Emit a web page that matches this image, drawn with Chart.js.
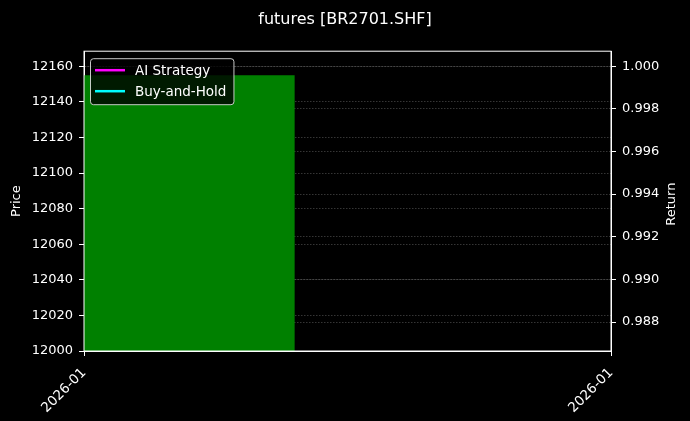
<!DOCTYPE html>
<html>
<head>
<meta charset="utf-8">
<script src="https://cdn.jsdelivr.net/npm/chart.js@4/dist/chart.umd.min.js"></script>
<style>
    html, body { margin: 0; background: #000; }
    #wrap { width: 690px; height: 421px; }
</style>
</head>
<body>
<div id="wrap"><canvas data-js="grafico"></canvas></div>
<script>
const titulo = 'futures [BR2701.SHF]';

// dias (offset em dias a partir do inicio do eixo)
const diasPreco = [0.4];
const precos = [12155];
const larguraBarra = 0.8;

const diasRetorno = [0.4];
const retornoIA = [1.0];
const retornoBH = [1.0];

const ticksX = [0, 2];
const rotulosX = ['2026-01', '2026-01'];
const ticksPreco = [12000, 12020, 12040, 12060, 12080, 12100, 12120, 12140, 12160];
const ticksRetorno = [0.988, 0.990, 0.992, 0.994, 0.996, 0.998, 1.000];
const limitesPreco = [12000, 12168.5];
const limitesRetorno = [0.98664, 1.0007];

const fonte = 'DejaVu Sans';
Chart.defaults.font.family = fonte;
Chart.defaults.color = '#fff';

const corGrade = 'rgba(140,140,140,0.55)';

// barra de preco desenhada como area preenchida ate o fundo da escala
const dadosBarra = diasPreco.flatMap((d, i) => [
    { x: d - larguraBarra / 2, y: precos[i] },
    { x: d + larguraBarra / 2, y: precos[i] },
]);

// legenda dentro do grafico, por cima da barra, e titulo "Return" girado
const extras = {
    id: 'extras',
    afterDatasetsDraw(chart) {
        const { ctx, chartArea } = chart;
        const itens = chart.data.datasets.filter(ds => ds.naLegenda);
        ctx.save();
        ctx.font = `13.5px "${fonte}"`;
        const larguraTexto = Math.max(...itens.map(ds => ctx.measureText(ds.label).width));
        const x0 = chartArea.left + 6;
        const y0 = chartArea.top + 7;
        const largura = 5 + 30 + 10 + larguraTexto + 7;
        const altura = 46;
        ctx.beginPath();
        ctx.roundRect(x0 + 0.5, y0 + 0.5, largura, altura, 3);
        ctx.fillStyle = 'rgba(0,0,0,0.8)';
        ctx.fill();
        ctx.strokeStyle = 'rgba(220,220,220,0.9)';
        ctx.lineWidth = 1;
        ctx.stroke();
        itens.forEach((ds, i) => {
            const y = y0 + 12 + i * 21;
            ctx.beginPath();
            ctx.moveTo(x0 + 5, y);
            ctx.lineTo(x0 + 35, y);
            ctx.strokeStyle = ds.borderColor;
            ctx.lineWidth = 2.5;
            ctx.stroke();
            ctx.fillStyle = '#fff';
            ctx.textBaseline = 'middle';
            ctx.fillText(ds.label, x0 + 45, y + 1);
        });
        ctx.restore();
    },
    afterDraw(chart) {
        const { ctx, chartArea } = chart;
        ctx.save();
        ctx.strokeStyle = '#fff';
        ctx.lineWidth = 1;
        ctx.strokeRect(chartArea.left, chartArea.top, chartArea.right - chartArea.left, chartArea.bottom - chartArea.top);
        ctx.translate(chart.width - 18, (chartArea.top + chartArea.bottom) / 2 + 3);
        ctx.rotate(-Math.PI / 2);
        ctx.font = `13px "${fonte}"`;
        ctx.fillStyle = '#fff';
        ctx.textAlign = 'center';
        ctx.textBaseline = 'middle';
        ctx.fillText('Return', 0, 0);
        ctx.restore();
    }
};

const grafico = new Chart(document.querySelector('[data-js="grafico"]'), {
    type: 'line',
    data: {
        datasets: [
            {
                label: 'AI Strategy',
                naLegenda: true,
                data: diasRetorno.map((d, i) => ({ x: d, y: retornoIA[i] })),
                borderColor: '#ff00ff',
                borderWidth: 2,
                pointRadius: 0,
                yAxisID: 'y1',
            },
            {
                label: 'Buy-and-Hold',
                naLegenda: true,
                data: diasRetorno.map((d, i) => ({ x: d, y: retornoBH[i] })),
                borderColor: '#00ffff',
                borderWidth: 2,
                pointRadius: 0,
                yAxisID: 'y1',
            },
            {
                label: 'Price',
                data: dadosBarra,
                borderWidth: 0,
                borderColor: 'rgba(0,0,0,0)',
                backgroundColor: '#008000',
                fill: 'start',
                pointRadius: 0,
                tension: 0,
                yAxisID: 'y',
            },
        ]
    },
    options: {
        responsive: true,
        maintainAspectRatio: false,
        animation: false,
        layout: { padding: 0 },
        plugins: {
            title: {
                display: true,
                text: titulo,
                color: '#fff',
                font: { size: 16, weight: 'normal' },
                padding: { top: 10, bottom: 22 },
            },
            legend: { display: false },
            tooltip: { enabled: false },
        },
        scales: {
            x: {
                type: 'linear',
                min: ticksX[0],
                max: ticksX[ticksX.length - 1],
                afterBuildTicks: (escala) => { escala.ticks = ticksX.map(v => ({ value: v })); },
                afterFit: (escala) => { escala.height = 70; },
                ticks: {
                    autoSkip: false,
                    maxRotation: 45,
                    minRotation: 45,
                    color: '#fff',
                    font: { size: 13.5 },
                    padding: 9,
                    callback: (v, i) => rotulosX[i],
                },
                grid: { drawOnChartArea: false, drawTicks: true, tickColor: '#fff', tickLength: 5, tickWidth: 1 },
                border: { color: '#fff', width: 1 },
            },
            y: {
                position: 'left',
                min: limitesPreco[0],
                max: limitesPreco[1],
                afterBuildTicks: (escala) => { escala.ticks = ticksPreco.map(v => ({ value: v })); },
                afterFit: (escala) => { escala.width = 84; },
                title: { display: true, text: 'Price', color: '#fff', font: { size: 13 }, padding: { top: 9, bottom: 0 } },
                ticks: { color: '#fff', font: { size: 13 }, padding: 6, callback: (v) => String(v) },
                grid: { color: corGrade, lineWidth: 0.7, tickColor: '#fff', tickLength: 5, tickWidth: 1, tickBorderDash: [] },
                border: { color: '#fff', width: 1, dash: [1.5, 1.5] },
            },
            y1: {
                position: 'right',
                min: limitesRetorno[0],
                max: limitesRetorno[1],
                afterBuildTicks: (escala) => { escala.ticks = ticksRetorno.map(v => ({ value: v })); },
                afterFit: (escala) => { escala.width = 79; },
                ticks: { color: '#fff', font: { size: 13 }, padding: 6, callback: (v) => v.toFixed(3) },
                grid: { color: corGrade, lineWidth: 0.7, tickColor: '#fff', tickLength: 5, tickWidth: 1, tickBorderDash: [] },
                border: { color: '#fff', width: 1, dash: [1.5, 1.5] },
            },
        },
    },
    plugins: [extras],
});
</script>
</body>
</html>
